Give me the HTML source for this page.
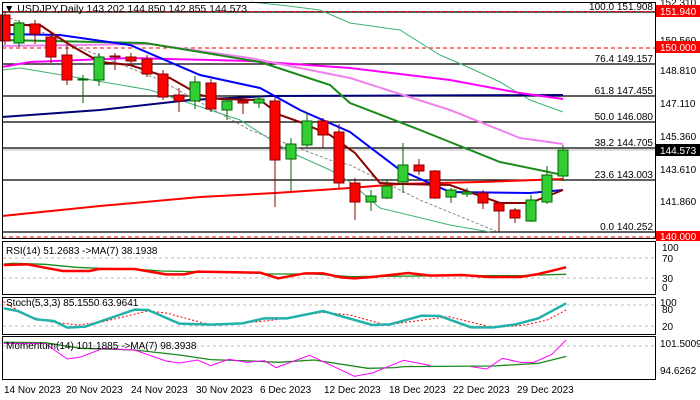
<!DOCTYPE html>
<html><head><meta charset="utf-8"><style>
html,body{margin:0;padding:0;background:#fff;}
svg{display:block;font-family:"Liberation Sans",sans-serif;}
</style></head><body>
<svg width="700" height="400" viewBox="0 0 700 400" xmlns="http://www.w3.org/2000/svg">
<rect width="700" height="400" fill="#fff"/>
<!-- main panel lines -->
<g stroke="#000" stroke-width="1.3">
<line x1="2" y1="12" x2="655" y2="12"/><line x1="2" y1="64" x2="655" y2="64"/>
<line x1="2" y1="96" x2="655" y2="96"/><line x1="2" y1="122" x2="655" y2="122"/>
<line x1="2" y1="148" x2="655" y2="148"/><line x1="2" y1="180" x2="655" y2="180"/>
<line x1="2" y1="232" x2="655" y2="232"/>
</g>
<line x1="2" y1="150" x2="655" y2="150" stroke="#bbb"/>
<g stroke="#e00" stroke-width="1" stroke-dasharray="4,3">
<line x1="2" y1="11.5" x2="655" y2="11.5"/><line x1="2" y1="48" x2="655" y2="48"/><line x1="2" y1="237" x2="655" y2="237"/>
</g>
<!-- bands -->
<g fill="none" stroke-width="1">
<polyline stroke="#3cb371" points="250,2 280,5 320,10 350,23 400,30 440,55 470,68 500,82 530,100 563,112"/>
<polyline stroke="#3cb371" points="2,70 20,68 80,78 150,90 240,120 290,152 330,170 350,182 380,208 450,225 490,232"/>
<polyline stroke="#888" stroke-dasharray="3,2" points="10,18 60,40 110,60 160,80 250,130 330,160 350,165 420,200 498,232"/>
</g>
<g fill="none" stroke-width="2">
<polyline stroke="#f00" points="2,216 100,206 200,197 275,193 350,188 400,184 480,182 563,179"/>
<polyline stroke="#00007a" points="2,117 100,110 190,100 270,96 563,95"/>
<polyline stroke="#f0f" points="2,67 30,62 130,58 250,61 350,68 450,80 520,93 563,99"/>
<polyline stroke="#ee82ee" points="2,46 150,44 250,58 350,78 450,110 520,138 563,144"/>
<polyline stroke="#1a8a1a" points="2,40 145,43 200,52 260,62 330,85 350,103 420,130 500,162 563,175"/>
<polyline stroke="#00f" points="2,34 60,35 130,45 200,75 260,88 300,110 350,132 400,170 450,192 530,193 563,190"/>
<polyline stroke="#8b0000" points="2,25 40,25 70,45 100,62 130,65 170,78 200,95 220,99 260,100 280,115 300,122 330,135 355,153 380,183 400,184 450,185 500,203 530,203 563,190"/>
</g>
<!-- candles -->
<g stroke-width="1">
<g stroke="#8b0000" fill="#f00">
<line x1="5" y1="12" x2="5" y2="45"/><rect x="0" y="15" width="10" height="26"/>
<line x1="35" y1="20" x2="35" y2="44"/><rect x="30" y="24" width="10" height="10"/>
<line x1="51" y1="33" x2="51" y2="63"/><rect x="46" y="37" width="10" height="20"/>
<line x1="67" y1="45" x2="67" y2="85"/><rect x="62" y="55" width="10" height="25"/>
<line x1="115" y1="53" x2="115" y2="70"/><rect x="110" y="56" width="10" height="1"/>
<line x1="131" y1="53" x2="131" y2="63"/><rect x="126" y="57" width="10" height="4"/>
<line x1="147" y1="55" x2="147" y2="77"/><rect x="142" y="59" width="10" height="15"/>
<line x1="163" y1="70" x2="163" y2="100"/><rect x="158" y="74" width="10" height="23"/>
<line x1="179" y1="88" x2="179" y2="112"/><rect x="174" y="95" width="10" height="6"/>
<line x1="211" y1="79" x2="211" y2="112"/><rect x="206" y="83" width="10" height="26"/>
<line x1="243" y1="97" x2="243" y2="114"/><rect x="238" y="101" width="10" height="2"/>
<line x1="275" y1="97" x2="275" y2="207"/><rect x="270" y="101" width="10" height="59"/>
<line x1="323" y1="118" x2="323" y2="148"/><rect x="318" y="121" width="10" height="14"/>
<line x1="339" y1="124" x2="339" y2="188"/><rect x="334" y="132" width="10" height="51"/>
<line x1="355" y1="178" x2="355" y2="220"/><rect x="350" y="183" width="10" height="19"/>
<line x1="419" y1="159" x2="419" y2="175"/><rect x="414" y="165" width="10" height="6"/>
<line x1="435" y1="170" x2="435" y2="199"/><rect x="430" y="171" width="10" height="27"/>
<line x1="483" y1="190" x2="483" y2="209"/><rect x="478" y="193" width="10" height="10"/>
<line x1="499" y1="202" x2="499" y2="232"/><rect x="494" y="203" width="10" height="8"/>
<line x1="515" y1="208" x2="515" y2="223"/><rect x="510" y="210" width="10" height="8"/>
</g>
<g stroke="#006400" fill="#32cd32">
<line x1="19" y1="20" x2="19" y2="47"/><rect x="14" y="23" width="10" height="20"/>
<line x1="83" y1="75" x2="83" y2="103"/><rect x="78" y="79" width="10" height="1"/>
<line x1="99" y1="53" x2="99" y2="86"/><rect x="94" y="57" width="10" height="23"/>
<line x1="195" y1="76" x2="195" y2="109"/><rect x="190" y="82" width="10" height="19"/>
<line x1="227" y1="97" x2="227" y2="120"/><rect x="222" y="101" width="10" height="9"/>
<line x1="259" y1="95" x2="259" y2="108"/><rect x="254" y="99" width="10" height="4"/>
<line x1="291" y1="138" x2="291" y2="191"/><rect x="286" y="144" width="10" height="15"/>
<line x1="307" y1="112" x2="307" y2="147"/><rect x="302" y="121" width="10" height="24"/>
<line x1="371" y1="190" x2="371" y2="211"/><rect x="366" y="196" width="10" height="6"/>
<line x1="387" y1="180" x2="387" y2="199"/><rect x="382" y="186" width="10" height="12"/>
<line x1="403" y1="143" x2="403" y2="193"/><rect x="398" y="165" width="10" height="17"/>
<line x1="451" y1="188" x2="451" y2="203"/><rect x="446" y="190" width="10" height="7"/>
<line x1="467" y1="188" x2="467" y2="197"/><rect x="462" y="192" width="10" height="2"/>
<line x1="531" y1="195" x2="531" y2="222"/><rect x="526" y="200" width="10" height="21"/>
<line x1="547" y1="166" x2="547" y2="204"/><rect x="542" y="175" width="10" height="27"/>
<line x1="563" y1="145" x2="563" y2="181"/><rect x="558" y="150" width="10" height="26"/>
</g>
</g>
<!-- frames -->
<g fill="none" stroke="#000" stroke-width="1">
<rect x="2.5" y="2.5" width="653" height="236"/>
<rect x="2.5" y="241.5" width="653" height="53"/>
<rect x="2.5" y="297.5" width="653" height="37"/>
<rect x="2.5" y="336.5" width="653" height="43"/>
</g>
<text x="4" y="12" font-size="10.5" fill="#000">▼ USDJPY,Daily  143.202 144.850 142.855 144.573</text>
<!-- fib labels -->
<g font-size="10" fill="#000" text-anchor="end">
<text x="653" y="10">100.0 151.908</text><text x="653" y="62">76.4 149.157</text>
<text x="653" y="94">61.8 147.455</text><text x="653" y="120">50.0 146.080</text>
<text x="653" y="146">38.2 144.705</text><text x="653" y="178">23.6 143.003</text>
<text x="653" y="230">0.0 140.252</text>
</g>
<g font-size="10" fill="#000">
<text x="660" y="6">152.310</text><text x="660" y="44">150.560</text><text x="660" y="74">148.810</text>
<text x="660" y="107">147.110</text><text x="660" y="140">145.360</text><text x="660" y="173">143.610</text>
<text x="660" y="205">141.860</text>
</g>
<rect x="656" y="5" width="44" height="12" fill="#f00"/><text x="660" y="15" font-size="10" fill="#fff">151.940</text>
<rect x="656" y="41" width="44" height="12" fill="#f00"/><text x="660" y="51" font-size="10" fill="#fff">150.000</text>
<rect x="656" y="144" width="44" height="12" fill="#000"/><text x="660" y="154" font-size="10" fill="#fff">144.573</text>
<rect x="656" y="231" width="44" height="10" fill="#f00"/><text x="660" y="240" font-size="10" fill="#fff">140.000</text>
<!-- sub panels levels -->
<g stroke="#bbb" stroke-dasharray="3,3">
<line x1="3" y1="258" x2="655" y2="258"/><line x1="3" y1="278" x2="655" y2="278"/>
<line x1="3" y1="305" x2="655" y2="305"/><line x1="3" y1="326" x2="655" y2="326"/>
<line x1="3" y1="346" x2="655" y2="346"/>
</g>
<g transform="translate(0,235) scale(0.4486,0.3333)" fill="none">
<polyline vector-effect="non-scaling-stroke" stroke="#1a8a1a" stroke-width="1.3" points="8,87 30,85 100,88 170,97 220,100 300,102 360,108 560,113 600,117 700,117 780,125 1000,122 1160,122 1200,120 1262,118"/>
<polyline vector-effect="non-scaling-stroke" stroke="#f00" stroke-width="2.5" points="8,90 60,88 140,108 200,108 220,102 300,102 370,118 410,118 440,110 580,113 620,130 680,115 720,115 760,127 790,130 830,126 870,120 910,114 960,122 1030,120 1090,126 1160,126 1200,117 1240,104 1262,97"/>
<polyline vector-effect="non-scaling-stroke" stroke="#f00" stroke-width="1" stroke-dasharray="2,2" points="8,200 60,243 120,262 175,270 230,260 330,228 370,234 470,270 550,263 600,257 720,232 780,240 860,270 1000,245 1100,278 1170,270 1220,255 1262,225"/>
<polyline vector-effect="non-scaling-stroke" stroke="#20b2aa" stroke-width="2.5" points="8,220 40,228 80,253 120,258 150,278 190,275 300,224 330,225 400,266 470,269 540,265 590,250 640,250 720,228 830,270 870,268 940,242 980,243 1050,277 1100,277 1150,268 1200,250 1262,205"/>
<polyline vector-effect="non-scaling-stroke" stroke="#1a8a1a" stroke-width="1.3" points="8,322 100,323 180,340 300,345 400,360 470,374 560,378 620,382 700,375 820,400 880,398 900,395 1100,393 1200,385 1262,364"/>
<polyline vector-effect="non-scaling-stroke" stroke="#f0f" stroke-width="1" points="8,325 100,325 150,372 180,366 230,340 300,345 370,378 400,384 440,375 470,392 510,373 550,382 590,377 615,398 690,361 740,392 790,424 830,414 900,376 960,392"/>
<polyline vector-effect="non-scaling-stroke" stroke="#f0f" stroke-width="1" points="1050,395 1085,402 1120,370 1160,382 1190,382 1230,358 1262,315"/>
</g>
<g font-size="10" fill="#000">
<text x="6" y="254">RSI(14) 51.2683  -&gt;MA(7) 38.1938</text>
<text x="6" y="306">Stoch(5,3,3) 85.1550 63.9641</text>
<text x="6" y="349">Momentum(14) 101.1885  -&gt;MA(7) 98.3938</text>
<text x="662" y="251">100</text><text x="662" y="262">70</text><text x="662" y="282">30</text><text x="662" y="291">0</text>
<text x="660" y="306">100</text><text x="662" y="313">80</text><text x="662" y="330">20</text>
<text x="660" y="347">101.5009</text><text x="660" y="374">94.6262</text>
<text x="4" y="393">14 Nov 2023</text><text x="66" y="393">20 Nov 2023</text><text x="131" y="393">24 Nov 2023</text>
<text x="196" y="393">30 Nov 2023</text><text x="260" y="393">6 Dec 2023</text><text x="324" y="393">12 Dec 2023</text>
<text x="389" y="393">18 Dec 2023</text><text x="453" y="393">22 Dec 2023</text><text x="517" y="393">29 Dec 2023</text>
</g>
</svg>
</body></html>
